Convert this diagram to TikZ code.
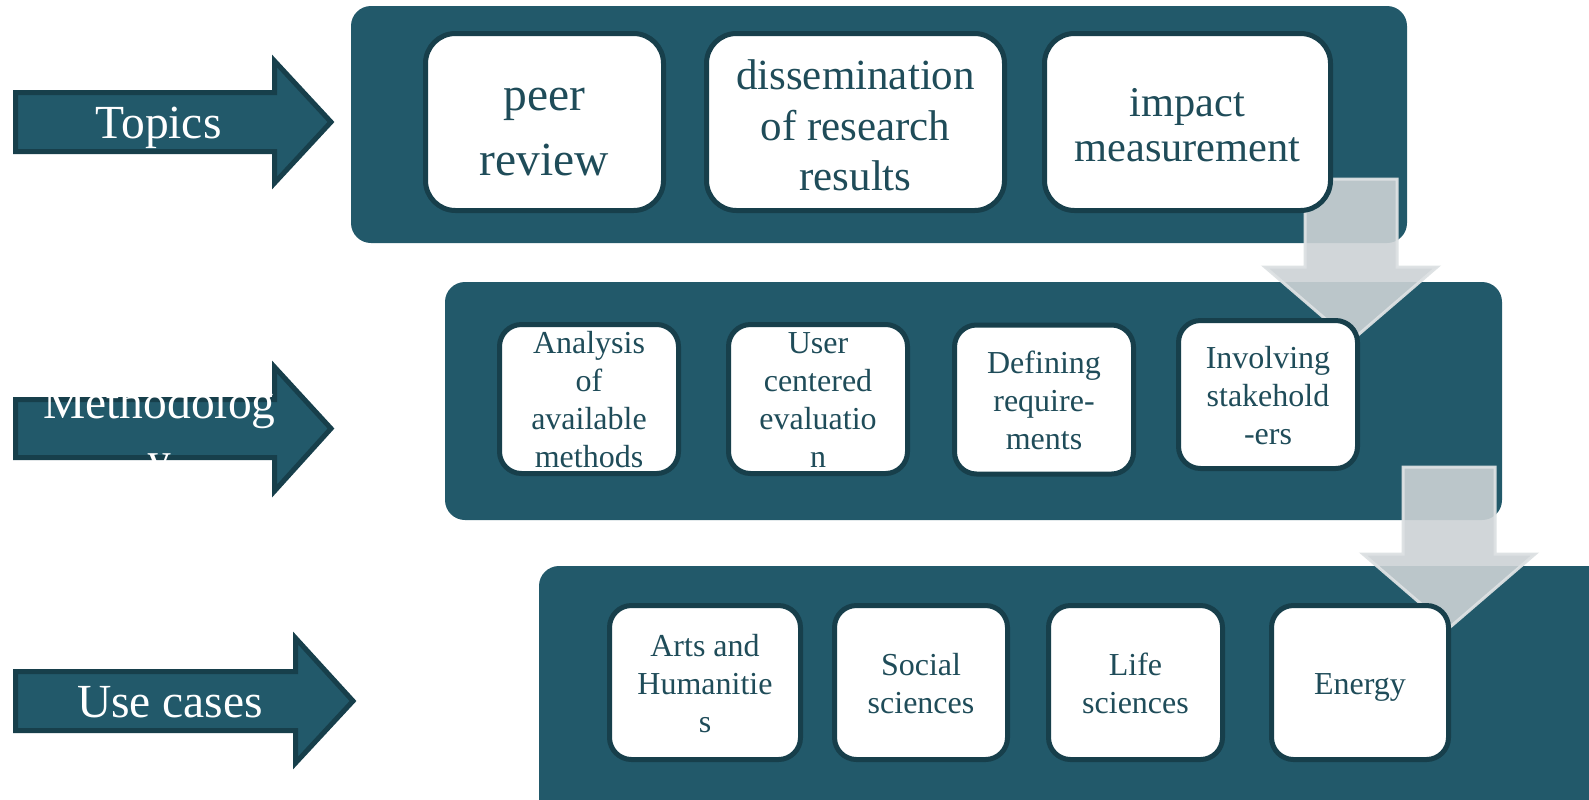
\documentclass[tikz,border=0pt]{standalone}
\usepackage{fontspec}
\setmainfont{Liberation Serif}
\usepackage{tikz}
\usepackage{xcolor}

\definecolor{bandteal}{HTML}{22596A}
\definecolor{edgeteal}{HTML}{173F4B}
\definecolor{inkteal}{HTML}{1F4C59}
\definecolor{flowgray}{RGB}{204,210,213}
\definecolor{flowedge}{RGB}{221,225,227}

\begin{document}
\begin{tikzpicture}[x=0.5pt, y=-0.5pt,
  band/.style={fill=bandteal, rounded corners=10pt},
  pointer/.style={fill=bandteal, draw=edgeteal, line width=2.5pt},
  tagtext/.style={text=white, align=center, font=\fontsize{23.75}{28.5}\selectfont},
  flow/.style={fill=flowgray, fill opacity=0.9, draw=flowedge, draw opacity=0.95, line width=1.5pt},
  card/.style={draw=edgeteal, fill=white, line width=2.5pt, rounded corners=11pt,
    text=inkteal, align=flush center, inner xsep=0pt, inner ysep=-8pt,
    font=\fontsize{16}{19}\selectfont,
    execute at begin node={\rule{0pt}{\dimexpr.7\baselineskip+4pt\relax}},
    execute at end node={\strut}},
  cardbox/.style 2 args={minimum width=#1, text width=#1, minimum height=#2},
  topcard/.style={card, rounded corners=15pt,
    execute at begin node={\rule{0pt}{\dimexpr.7\baselineskip+8pt\relax}}}]

    % page
    \clip (0,0) rectangle (1589,799);
    \fill[white] (0,0) rectangle (1589,799);

    % left arrows
    \draw[pointer] (15.5,92.5) -- (274.5,92.5) -- (274.5,61) -- (331,122) -- (274.5,183) -- (274.5,151.5) -- (15.5,151.5) -- cycle;
    \node[tagtext] (topics) at (158.5,128) {Topics};
    \draw[pointer] (15.5,399.5) -- (274.5,399.5) -- (274.5,367) -- (331,428.5) -- (274.5,491) -- (274.5,457.5) -- (15.5,457.5) -- cycle;
    \node[tagtext] (method) at (159.5,435.5) {Methodolog\\y};
    \draw[pointer] (15.5,671.5) -- (295.5,671.5) -- (295.5,638) -- (353,701) -- (295.5,763) -- (295.5,730.5) -- (15.5,730.5) -- cycle;
    \node[tagtext] (cases) at (170,702) {Use cases};

    % panels
    \fill[band] (351,6) rectangle (1407,243);
    \fill[band] (445,282) rectangle (1502,520);
    \fill[band] (539,566) rectangle (1610,830);

    % arrows down
    \coordinate (drop1) at (1305,179);
    \coordinate (drop2) at (1403,467);
    \draw[flow] (drop1) -- ++(92,0) -- ++(0,88) -- ++(40,0) -- ++(-86,74) -- ++(-86,-74) -- ++(40,0) -- cycle;
    \draw[flow] (drop2) -- ++(92,0) -- ++(0,87) -- ++(40,0) -- ++(-86,74) -- ++(-86,-74) -- ++(40,0) -- cycle;

    % topics
    \node[topcard, cardbox={119pt}{88.5pt}, font=\fontsize{23.75}{32.5}\selectfont] (peer) at (544.5,122) {peer\\review};
    \node[topcard, cardbox={149pt}{88.5pt}, font=\fontsize{21.5}{25.25}\selectfont] (dissem) at (855.5,122) {dissemination\\of research\\results};
    \node[topcard, cardbox={143pt}{88.5pt}, font=\fontsize{21.2}{22.5}\selectfont] (impact) at (1187.5,122) {impact\\measurement};

    % methodology
    \node[card, cardbox={89.5pt}{74.5pt}] (analysis) at (589,399) {Analysis\\of\\available\\methods};
    \node[card, cardbox={89.5pt}{74.5pt}] (usereval) at (818,399) {User\\centered\\evaluatio\\n};
    \node[card, cardbox={89.5pt}{74.5pt}] (require) at (1044,399.5) {Defining\\require-\\ments};
    \node[card, cardbox={89.5pt}{74pt}] (stake) at (1268,394.5) {Involving\\stakehold\\-ers};

    % use cases
    \node[card, cardbox={95.5pt}{77pt}] (arts) at (705,682.5) {Arts and\\Humanitie\\s};
    \node[card, cardbox={86.5pt}{77pt}] (social) at (921,682.5) {Social\\sciences};
    \node[card, cardbox={87pt}{77pt}] (life) at (1135.5,682.5) {Life\\sciences};
    \node[card, cardbox={88.5pt}{77pt}] (energy) at (1360,682.5) {Energy};
\end{tikzpicture}
\end{document}
